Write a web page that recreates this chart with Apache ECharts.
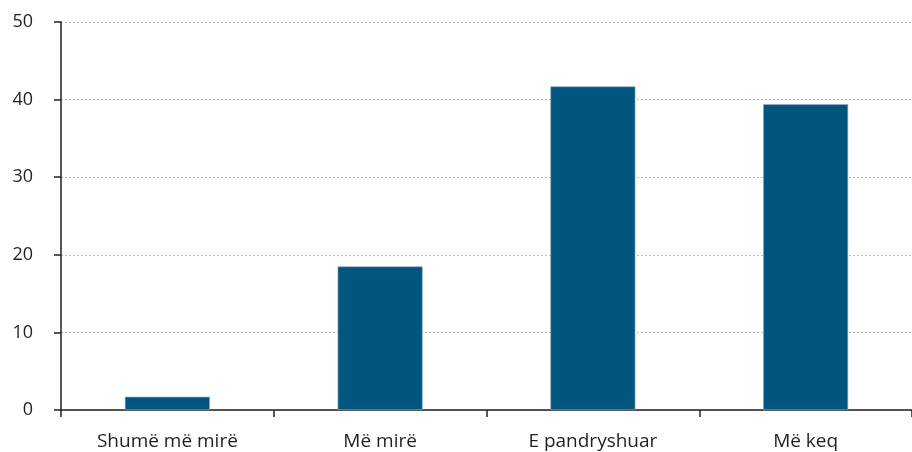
<!DOCTYPE html>
<html>
<head>
<meta charset="utf-8">
<script src="https://cdn.jsdelivr.net/npm/echarts@6/dist/echarts.min.js"></script>
<style>
  html, body { margin: 0; padding: 0; background: #fff; }
  #chart { width: 912px; height: 452px; }
</style>
</head>
<body>
<div id="chart"></div>
<script>
// kategoritë dhe vlerat (%)
const categories = ['Shumë më mirë', 'Më mirë', 'E pandryshuar', 'Më keq'];
const values = [1.7, 18.5, 41.7, 39.4];
const yTicks = [0, 10, 20, 30, 40, 50];

const axisColor = '#231f20';
const fontFamily = '"Open Sans", sans-serif';

const chart = echarts.init(document.getElementById('chart'));
chart.setOption({
    animation: false,
    grid: { left: 61, top: 22, width: 856, bottom: 42, containLabel: false },
    xAxis: {
        type: 'category',
        data: categories,
        boundaryGap: true,
        axisLine: { lineStyle: { color: axisColor, width: 1.5 } },
        axisTick: { show: true, length: 7, lineStyle: { color: axisColor, width: 1.5 } },
        axisLabel: { color: axisColor, fontSize: 19, fontFamily: fontFamily, margin: 22 }
    },
    yAxis: {
        type: 'value',
        min: yTicks[0],
        max: yTicks[yTicks.length - 1],
        interval: 10,
        axisLine: { show: true, lineStyle: { color: axisColor, width: 1.5 } },
        axisTick: { show: true, length: 7, lineStyle: { color: axisColor, width: 1.5 } },
        axisLabel: { color: axisColor, fontSize: 18, fontFamily: fontFamily, margin: 28 },
        splitLine: { show: true, lineStyle: { color: '#bdbdbd', type: [2, 2], width: 1 } }
    },
    series: [
        {
            type: 'bar',
            data: values,
            barWidth: 85,
            itemStyle: { color: '#02557f', borderColor: '#8fb3c8', borderWidth: 0.6 }
        }
    ]
});
</script>
</body>
</html>
